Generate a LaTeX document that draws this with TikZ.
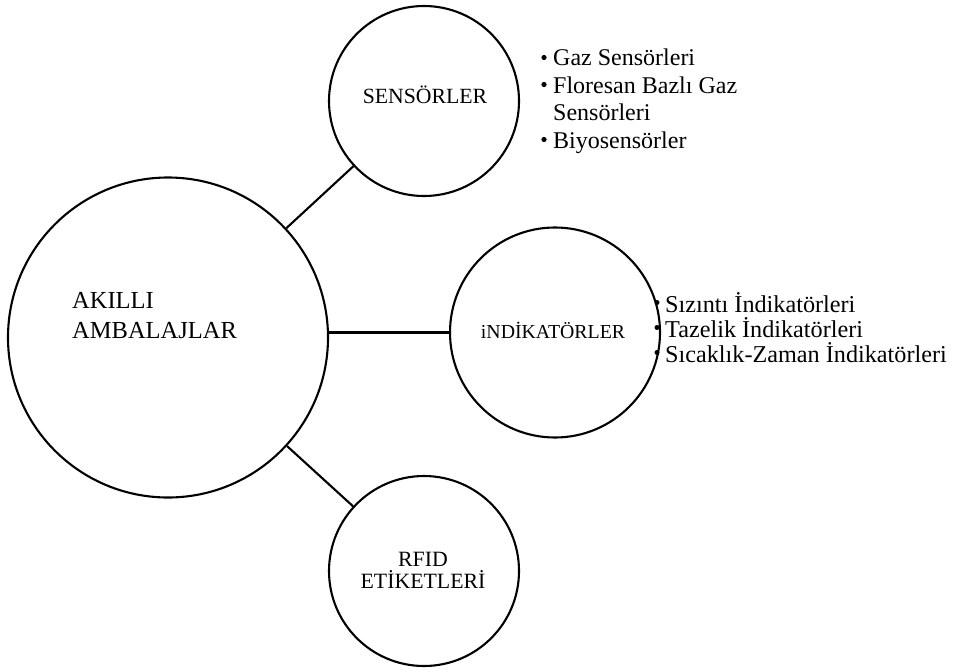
\documentclass[tikz,border=0pt]{standalone}
\usepackage{fontspec}
\setmainfont{Liberation Serif}
\newfontfamily\labelfont{Liberation Serif}
\newcommand\fsz[1]{\labelfont\fontsize{#1}{#1}\selectfont}
\begin{document}
\begin{tikzpicture}[x=1pt,y=-1pt,
  hub/.style={circle,draw=black,line width=2.1pt,inner sep=0pt,fill=white},
  link/.style={draw=black,line width=2.1pt},
  word/.style={inner sep=0pt,text=black},
  dot/.style={fill=black}]
\useasboundingbox[fill=white] (0,0) rectangle (957,669);

% circles
\node[hub,minimum size=320pt] (big)  at (168,337.5) {};
\node[hub,minimum size=190pt] (sens) at (424,101) {};
\node[hub,minimum size=210pt] (ind)  at (555,332.5) {};
\node[hub,minimum size=190pt] (rfid) at (424,571) {};

% connectors
\draw[link] (big) -- (sens);
\draw[link] (ind.west) -- (ind.west -| big.east);
\draw[link] (big) -- (rfid);

% circle labels
\node[word,anchor=base west,font=\fsz{24.5}] (t1) at (72,308) {AKILLI};
\node[word,anchor=base west,font=\fsz{24.5}] (t2) at (72,338) {AMBALAJLAR};
\node[word,anchor=base,font=\fsz{21.7}] (t3) at (425,103) {SENSÖRLER};
\node[word,anchor=base,font=\fsz{19.8}] (t4) at (553,338) {iNDİKATÖRLER};
\node[word,anchor=base,font=\fsz{21.8}] (t5) at (423,566) {RFID};
\node[word,anchor=base,font=\fsz{21.8}] (t6) at (423,588) {ETİKETLERİ};

% sensor list
\node[word,anchor=base west,font=\fsz{24}] (s1) at (553,66) {Gaz Sensörleri};
\node[word,anchor=base west,font=\fsz{24}] (s2) at (553,93) {Floresan Bazlı Gaz};
\node[word,anchor=base west,font=\fsz{24}] (s3) at (553,120) {Sensörleri};
\node[word,anchor=base west,font=\fsz{24}] (s4) at (553,148) {Biyosensörler};
\foreach \n in {s1,s2,s4}
  \fill[dot] ([xshift=-9pt,yshift=8.5pt]\n.base west) circle (2.6pt);

% indicator list
\node[word,anchor=base west,font=\fsz{24.2}] (i1) at (665,312) {Sızıntı İndikatörleri};
\node[word,anchor=base west,font=\fsz{24.2}] (i2) at (665,337) {Tazelik İndikatörleri};
\node[word,anchor=base west,font=\fsz{24.2}] (i3) at (665,362) {Sıcaklık-Zaman İndikatörleri};
\foreach \n in {i1,i2,i3}
  \fill[dot] ([xshift=-8pt,yshift=9.5pt]\n.base west) circle (2.5pt);
\end{tikzpicture}
\end{document}
